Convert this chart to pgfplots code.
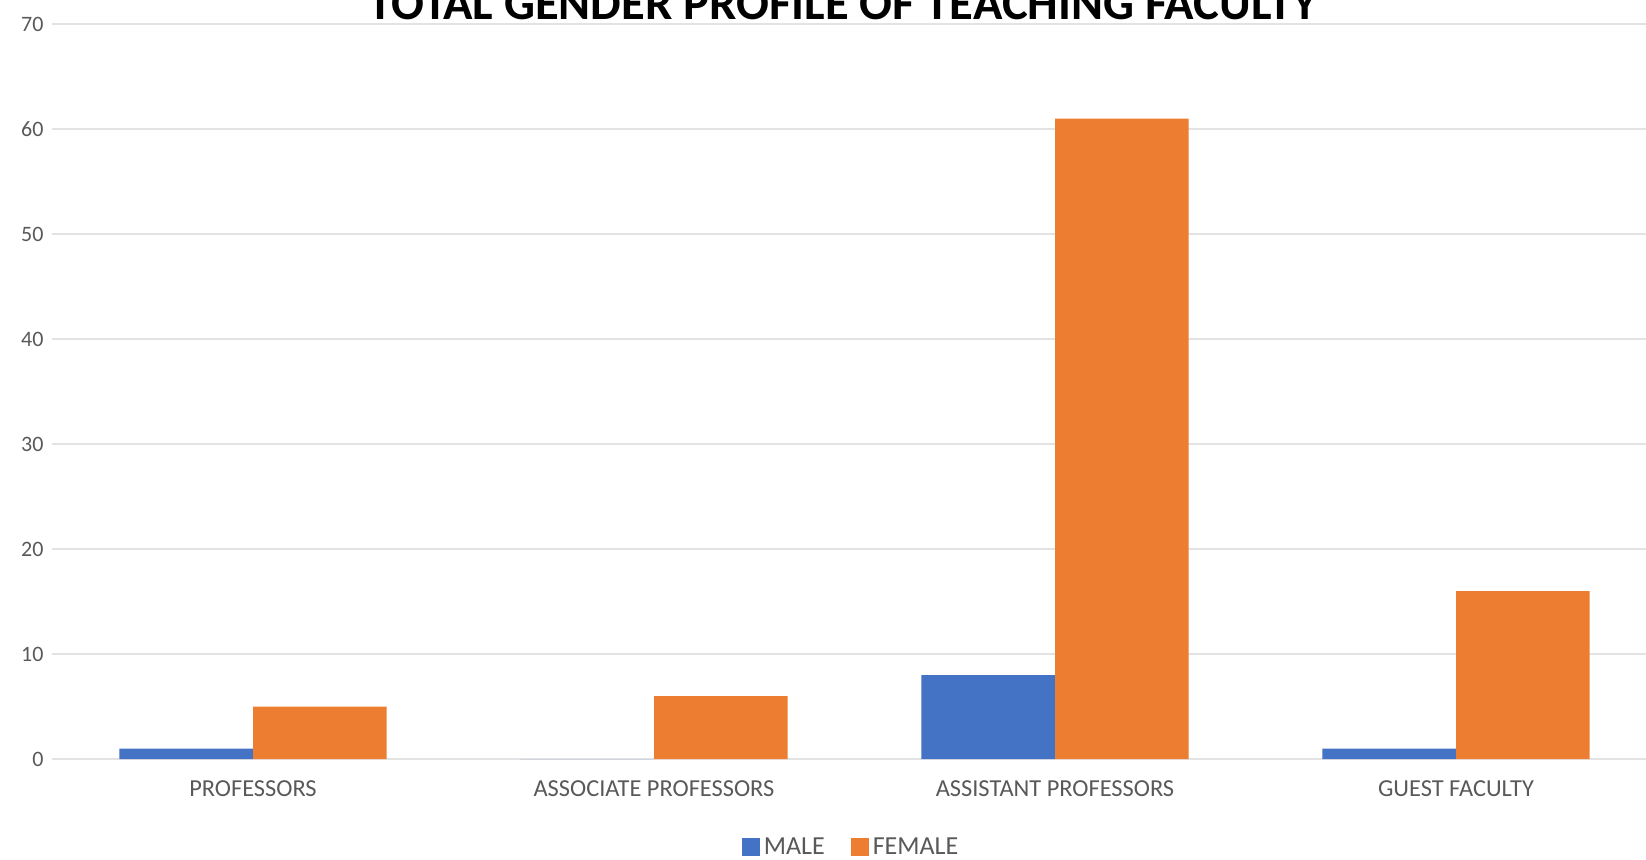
\documentclass[border=0pt]{standalone}
\usepackage{pgfplots}
\pgfplotsset{compat=1.18}
\usepackage{fontspec}
\setmainfont{Carlito}
\definecolor{cblue}{HTML}{4472C4}
\definecolor{corange}{HTML}{ED7D31}
\definecolor{cgrid}{HTML}{E3E3E3}
\definecolor{ctext}{HTML}{595959}
\begin{document}
\begin{tikzpicture}
\useasboundingbox (0,0) rectangle (823pt,429.5pt);
\clip (0,0) rectangle (823pt,429.5pt);
\begin{axis}[
  at={(26.25pt,50pt)}, anchor=south west,
  scale only axis, width=802pt, height=367.5pt,
  xmin=-0.5, xmax=3.5, ymin=0, ymax=70,
  ytick={0,10,...,70},
  xtick={0,1,2,3},
  xticklabels={PROFESSORS,ASSOCIATE PROFESSORS,ASSISTANT PROFESSORS,GUEST FACULTY},
  axis line style={draw=none},
  major tick length=0pt,
  ymajorgrids, grid style={cgrid, line width=1pt},
  ybar=0pt, bar width=0.333,
  /pgf/number format/assume math mode=true,
  yticklabel style={xshift=-1pt, font=\fontsize{11}{13}\selectfont, text=ctext},
  xticklabel style={yshift=-7.5pt, font=\fontsize{12.2}{14}\selectfont, text=ctext},
  legend style={at={(0.4985,-0.12)}, anchor=center, draw=none, legend columns=2,
    font=\fontsize{13}{15}\selectfont, text=ctext,
    /tikz/every even column/.append style={column sep=11pt}},
  legend image code/.code={\fill[#1] (0pt,-4.5pt) rectangle (9pt,4.5pt);},
]
\addplot[fill=cblue, draw=none] coordinates {(0,1) (1,0) (2,8) (3,1)};
\addplot[fill=corange, draw=none] coordinates {(0,5) (1,6) (2,61) (3,16)};
\legend{MALE,FEMALE}
\end{axis}
\node[anchor=base, font=\bfseries\fontsize{24.3}{28}\selectfont] at (421.5pt,419.5pt) {TOTAL GENDER PROFILE OF TEACHING FACULTY};
\end{tikzpicture}
\end{document}
